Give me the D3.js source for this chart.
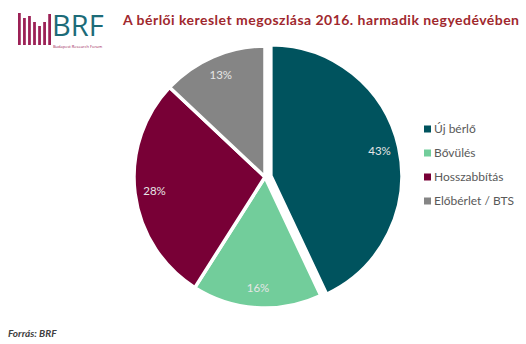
<!DOCTYPE html>
<html>
<head>
<meta charset="utf-8">
<script src="https://cdn.jsdelivr.net/npm/d3@7"></script>
<style>
body { margin: 0; background: #fff; }
svg { display: block; }
</style>
</head>
<body>
<div id="chart"></div>
<script>
// data
var categories = ["Új bérlő", "Bővülés", "Hosszabbítás", "Előbérlet / BTS"];
var shares = [43, 16, 28, 13];
var colors = ["#00535e", "#72cd9b", "#780036", "#858585"];
var logoBars = [32, 27, 29, 23, 19, 23, 31];

var width = 526, height = 344;
var svg = d3.select("#chart").append("svg")
	.attr("width", width)
	.attr("height", height);

// logo
var logo = svg.append("g");
var barX = d3.scaleBand().domain(d3.range(logoBars.length)).range([18, 51]).paddingInner(0.45);
logo.selectAll("rect").data(logoBars).enter().append("rect")
	.attr("x", function(d, i) { return barX(i); })
	.attr("y", function(d) { return 45 - d; })
	.attr("width", barX.bandwidth())
	.attr("height", function(d) { return d; })
	.attr("fill", "#9c2156");
logo.append("text")
	.attr("x", 52).attr("y", 36)
	.style("font-family", "'Open Sans', sans-serif")
	.style("font-size", "29px")
	.attr("fill", "#1c6b78")
	.text("BRF");
logo.append("text")
	.attr("x", 53).attr("y", 47.5)
	.style("font-family", "'Open Sans', sans-serif")
	.style("font-size", "4px")
	.attr("fill", "#9c2156")
	.text("Budapest Research Forum");

// title
svg.append("text")
	.attr("x", 123).attr("y", 25)
	.attr("textLength", 396)
	.style("font-family", "Lato, sans-serif")
	.style("font-weight", "bold")
	.style("font-size", "14px")
	.attr("fill", "#a0282e")
	.text("A bérlői kereslet megoszlása 2016. harmadik negyedévében");

// pie
var cx = 265, cy = 177, r = 131;
var pie = d3.pie().sort(null).value(function(d) { return d; });
var arc = d3.arc().innerRadius(0).outerRadius(r);
var labelArc = d3.arc().innerRadius(r * 0.85).outerRadius(r * 0.85);
var arcs = pie(shares);

var g = svg.append("g").attr("transform", "translate(" + cx + "," + cy + ")");
var slice = g.selectAll("g.slice").data(arcs).enter().append("g")
	.attr("class", "slice")
	.attr("transform", function(d, i) {
		if (i != 0) return null;
		var a = (d.startAngle + d.endAngle) / 2, off = 6;
		return "translate(" + (off * Math.sin(a)) + "," + (-off * Math.cos(a)) + ")";
	});
slice.append("path")
	.attr("d", arc)
	.attr("fill", function(d, i) { return colors[i]; })
	.attr("stroke", "#fff")
	.attr("stroke-width", 3.5)
	.attr("stroke-linejoin", "round");
slice.append("text")
	.attr("transform", function(d) { return "translate(" + labelArc.centroid(d) + ")"; })
	.attr("text-anchor", "middle")
	.attr("dy", "0.35em")
	.style("font-family", "Lato, sans-serif")
	.style("font-size", "11.5px")
	.attr("fill", "#e6e6e6")
	.text(function(d) { return d.data + "%"; });

// legend
var ly = d3.scalePoint().domain(categories).range([129, 201]);
var legend = svg.append("g").selectAll("g").data(categories).enter().append("g")
	.attr("transform", function(d) { return "translate(424," + ly(d) + ")"; });
legend.append("rect")
	.attr("x", 0).attr("y", -3.5)
	.attr("width", 7).attr("height", 7)
	.attr("fill", function(d, i) { return colors[i]; });
legend.append("text")
	.attr("x", 10).attr("dy", "0.35em")
	.style("font-family", "Lato, sans-serif")
	.style("font-size", "12px")
	.attr("fill", "#595959")
	.text(function(d) { return d; });

// source
svg.append("text")
	.attr("x", 8).attr("y", 337)
	.style("font-family", "Lato, sans-serif")
	.style("font-style", "italic")
	.style("font-weight", "bold")
	.style("font-size", "10px")
	.attr("fill", "#404040")
	.text("Forrás: BRF");
</script>
</body>
</html>
